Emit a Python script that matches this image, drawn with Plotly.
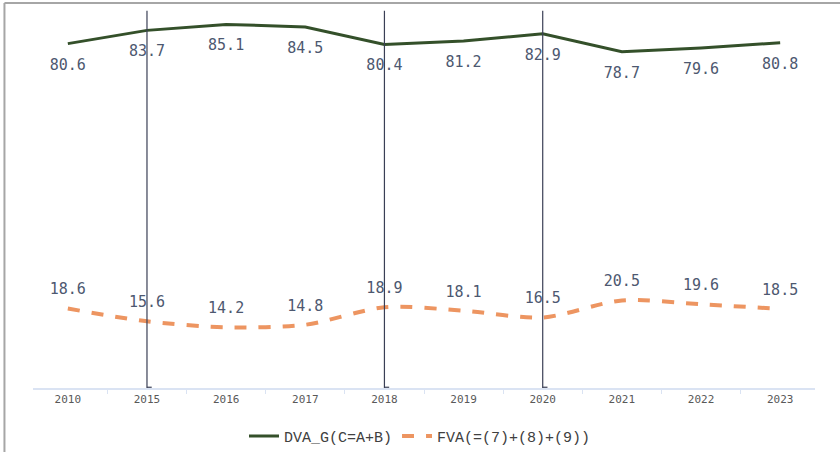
import plotly.graph_objects as go

years = ["2010", "2015", "2016", "2017", "2018", "2019", "2020", "2021", "2022", "2023"]
dva_g = [80.6, 83.7, 85.1, 84.5, 80.4, 81.2, 82.9, 78.7, 79.6, 80.8]
fva = [18.6, 15.6, 14.2, 14.8, 18.9, 18.1, 16.5, 20.5, 19.6, 18.5]
marked_years = ["2015", "2018", "2020"]

label_font = dict(family="DejaVu Sans Mono", size=15, color="#4d5870")

fig = go.Figure()
fig.add_trace(go.Scatter(
    x=years, y=dva_g, name="DVA_G(C=A+B)", mode="lines",
    line=dict(color="#34502a", width=3),
))
fig.add_trace(go.Scatter(
    x=years, y=fva, name="FVA(=(7)+(8)+(9))", mode="lines",
    line=dict(color="#ED9561", width=4, dash="dash", shape="spline", smoothing=0.8),
))
fig.add_trace(go.Scatter(
    x=years, y=dva_g, mode="markers+text", showlegend=False, hoverinfo="skip",
    marker=dict(size=22, opacity=0),
    text=[f"{v:.1f}" for v in dva_g], textposition="bottom center",
    textfont=label_font, cliponaxis=False,
))
fig.add_trace(go.Scatter(
    x=years, y=fva, mode="markers+text", showlegend=False, hoverinfo="skip",
    marker=dict(size=15, opacity=0),
    text=[f"{v:.1f}" for v in fva], textposition="top center",
    textfont=label_font, cliponaxis=False,
))

shapes = []
for yr in marked_years:
    i = years.index(yr)
    shapes.append(dict(type="line", xref="x", yref="paper", x0=i, x1=i, y0=0, y1=1.003,
                       line=dict(color="#3a3f55", width=1.2)))
    shapes.append(dict(type="line", xref="x", yref="paper", x0=i, x1=i + 0.06, y0=0.002, y1=0.002,
                       line=dict(color="#3a3f55", width=1.2)))
# outer border (left and top)
shapes.append(dict(type="line", xref="paper", yref="paper", x0=-0.0365, x1=-0.0365, y0=-0.3, y1=1.024,
                   line=dict(color="#a6a6a6", width=2)))
shapes.append(dict(type="line", xref="paper", yref="paper", x0=-0.0365, x1=1.1, y0=1.024, y1=1.024,
                   line=dict(color="#a6a6a6", width=2)))

fig.update_layout(
    width=840, height=452,
    margin=dict(l=33, r=25, t=12, b=64),
    paper_bgcolor="white", plot_bgcolor="white",
    shapes=shapes,
    showlegend=True,
    legend=dict(orientation="h", x=0.5, xanchor="center", xref="container",
                y=0.035, yanchor="middle", yref="container",
                font=dict(family="Liberation Mono", size=15, color="#404040")),
    xaxis=dict(type="category", range=[-0.44, 9.44], showgrid=False,
               showline=True, linecolor="#dae3f3", linewidth=2,
               ticks="outside", tickson="boundaries", ticklen=4, tickcolor="#dae3f3",
               tickfont=dict(family="DejaVu Sans Mono", size=11, color="#595959")),
    yaxis=dict(range=[0, 88], visible=False, showgrid=False, zeroline=False),
)

fig.write_html("out.html", config={"displayModeBar": False},
               post_script="document.body.style.margin='0';")
